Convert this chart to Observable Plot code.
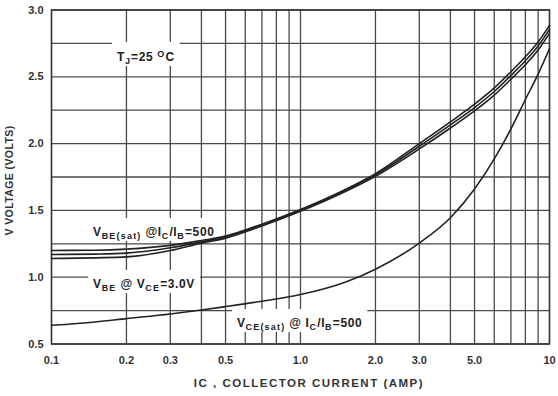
<!DOCTYPE html>
<html><head><meta charset="utf-8">
<script src="https://cdn.jsdelivr.net/npm/d3@7"></script>
<script src="https://cdn.jsdelivr.net/npm/@observablehq/plot@0.6"></script>
<style>
body{margin:0;background:#fff}
svg{display:block}
</style>
</head><body><div id="chart"></div>
<script>
// ---- data ----
const xTicks = [0.1, 0.2, 0.3, 0.5, 1, 2, 3, 5, 10];
const xTickLabels = ["0.1", "0.2", "0.3", "0.5", "1.0", "2.0", "3.0", "5.0", "10"];
const xGrid = [0.1, 0.2, 0.3, 0.4, 0.5, 0.6, 0.7, 0.8, 0.9, 1, 2, 3, 4, 5, 6, 7, 8, 9, 10];
const yTicks = [0.5, 1.0, 1.5, 2.0, 2.5, 3.0];
const yGrid = [0.5, 0.75, 1.0, 1.25, 1.5, 1.75, 2.0, 2.25, 2.5, 2.75, 3.0];

const ic      = [0.1, 0.15, 0.2, 0.3, 0.4, 0.5, 0.7, 1.0, 1.5, 2.0, 3.0, 4.0, 5.0, 6.0, 7.0, 8.0, 9.0, 10];
const vbeSat  = [1.20, 1.202, 1.21, 1.238, 1.275, 1.308, 1.397, 1.507, 1.653, 1.775, 2.00, 2.163, 2.295, 2.417, 2.538, 2.65, 2.76, 2.885];
const vbeSat2 = [1.17, 1.173, 1.18, 1.22, 1.265, 1.30, 1.39, 1.50, 1.645, 1.765, 1.98, 2.14, 2.27, 2.39, 2.51, 2.62, 2.73, 2.855];
const vbeOn   = [1.14, 1.145, 1.152, 1.20, 1.255, 1.292, 1.383, 1.493, 1.637, 1.755, 1.96, 2.117, 2.245, 2.363, 2.482, 2.59, 2.70, 2.825];
const vceSat  = [0.64, 0.665, 0.69, 0.725, 0.755, 0.78, 0.82, 0.87, 0.96, 1.06, 1.255, 1.445, 1.66, 1.885, 2.11, 2.33, 2.52, 2.71];

const seriesNames = ["VBE(sat) A", "VBE(sat) B", "VBE(on)", "VCE(sat)"];
const seriesValues = [vbeSat, vbeSat2, vbeOn, vceSat];

// annotation texts: [text, kind] parts, anchored (left, middle) in data coordinates
const annotations = [
  {x: 0.184, y: 2.645, parts: [["T","n"],["J","sub"],["=25 ","n"],["O","sup"],["C","n"]]},
  {x: 0.1475, y: 1.335, parts: [["V","n"],["BE(sat)","sub"],[" @","n"],["I","n"],["C","sub"],["/I","n"],["B","sub"],["=500","n"]]},
  {x: 0.1475, y: 0.945, parts: [["V","n"],["BE","sub"],[" @ V","n"],["CE","sub"],["=3.0V","n"]]},
  {x: 0.558, y: 0.653, parts: [["V","n"],["CE(sat)","sub"],[" @ I","n"],["C","sub"],["/I","n"],["B","sub"],["=500","n"]]}
];

const rows = [];
seriesValues.forEach((vals, s) => vals.forEach((v, i) => rows.push({series: seriesNames[s], ic: ic[i], v})));

const ink = "#222";
const gridInk = "#4a4a4a";
const font = "'Liberation Sans', Arial, sans-serif";

const plot = Plot.plot({
  width: 558,
  height: 396,
  marginLeft: 51,
  marginRight: 9,
  marginTop: 9.5,
  marginBottom: 52.5,
  style: {fontFamily: font, fontSize: "11px", fontWeight: "bold", background: "#fff", color: "#333"},
  x: {type: "log", domain: [0.1, 10]},
  y: {domain: [0.5, 3.0]},
  marks: [
    Plot.ruleX(xGrid, {stroke: gridInk, strokeWidth: 1.3}),
    Plot.ruleY(yGrid, {stroke: gridInk, strokeWidth: 1.3}),
    Plot.frame({stroke: "#333", strokeWidth: 1.4}),
    Plot.line(rows, {x: "ic", y: "v", z: "series", stroke: ink, strokeWidth: 1.6, curve: "monotone-x"}),
    Plot.axisX({ticks: xTicks, tickFormat: d => xTickLabels[xTicks.indexOf(d)], tickSize: 0, tickPadding: 12, label: null, fill: "#333"}),
    Plot.axisY({ticks: yTicks, tickFormat: d => d.toFixed(1), tickSize: 0, tickPadding: 8, label: null, fill: "#333"})
  ]
});
document.getElementById("chart").appendChild(plot);

// ---- annotations with subscripts, white boxes behind, below the curves ----
const svg = d3.select(plot);
const xs = plot.scale("x"), ys = plot.scale("y");
const rules = plot.querySelectorAll("g[aria-label='rule']");
const annG = document.createElementNS("http://www.w3.org/2000/svg", "g");
rules[rules.length - 1].after(annG);
const ag = d3.select(annG).attr("text-anchor", "start");
annotations.forEach(a => {
  const g = ag.append("g");
  const rect = g.append("rect").attr("fill", "#fff");
  const t = g.append("text")
    .attr("text-anchor", "start")
    .attr("x", xs.apply(a.x))
    .attr("y", ys.apply(a.y) + 4)
    .attr("font-family", font)
    .attr("font-weight", "bold")
    .attr("fill", ink)
    .attr("font-size", 12);
  let shift = 0;
  a.parts.forEach(([s, kind]) => {
    const target = kind === "sub" ? 3 : kind === "sup" ? -4 : 0;
    t.append("tspan")
      .attr("dy", target - shift)
      .attr("font-size", kind === "n" ? 12 : 9)
      .attr("letter-spacing", kind === "n" ? 0.6 : 1.2)
      .text(s);
    shift = target;
  });
  const bb = t.node().getBBox();
  rect.attr("x", bb.x - 5).attr("y", bb.y - 7).attr("width", bb.width + 10).attr("height", bb.height + 7);
});

// ---- axis titles ----
const x0 = xs.range[0], x1 = xs.range[1];
const y0 = ys.range[0], y1 = ys.range[1];
svg.append("text")
  .attr("x", (x0 + x1) / 2 + 9).attr("y", y0 + 43)
  .attr("text-anchor", "middle")
  .attr("letter-spacing", 1.5)
  .attr("font-family", font).attr("font-weight", "bold").attr("font-size", 11.5).attr("fill", "#333")
  .text("IC , COLLECTOR CURRENT (AMP)");
svg.append("text")
  .attr("transform", `translate(${x0 - 38},${(y0 + y1) / 2 + 4}) rotate(-90)`)
  .attr("text-anchor", "middle")
  .attr("letter-spacing", 0.4)
  .attr("font-family", font).attr("font-weight", "bold").attr("font-size", 10.5).attr("fill", "#333")
  .text("V VOLTAGE (VOLTS)");
</script>
</body></html>
